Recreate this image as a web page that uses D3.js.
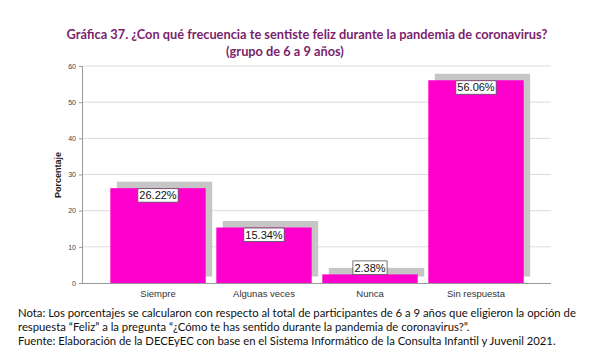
<!DOCTYPE html>
<html><head><meta charset="utf-8">
<script src="https://cdn.jsdelivr.net/npm/d3@7"></script>
<style>body{margin:0;background:#fff}svg{display:block}</style>
</head><body>
<script>
const categories = ["Siempre", "Algunas veces", "Nunca", "Sin respuesta"];
const values = [26.22, 15.34, 2.38, 56.06];
const yTicks = [0, 10, 20, 30, 40, 50, 60];
const titleLines = ["Gráfica 37. ¿Con qué frecuencia te sentiste feliz durante la pandemia de coronavirus?", "(grupo de 6 a 9 años)"];
const noteLines = [
  "Nota: Los porcentajes se calcularon con respecto al total de participantes de 6 a 9 años que eligieron la opción de",
  "respuesta “Feliz” a la pregunta “¿Cómo te has sentido durante la pandemia de coronavirus?”.",
  "Fuente: Elaboración de la DECEyEC con base en el Sistema Informático de la Consulta Infantil y Juvenil 2021."
];

const W = 590, H = 356;
const svg = d3.select("body").append("svg").attr("width", W).attr("height", H);

const plotL = 82, plotR = 551, plotT = 66, plotB = 283;
const x = d3.scaleBand().domain(categories).range([105, 529]).paddingInner(0.1).paddingOuter(0.05);
const y = d3.scaleLinear().domain([0, 60]).range([plotB, plotT]);

// title
const tPos = [{x: 307, y: 39}, {x: 285, y: 56}];
svg.append("g").selectAll("text").data(titleLines).join("text")
  .attr("x", (d, i) => tPos[i].x).attr("y", (d, i) => tPos[i].y)
  .attr("text-anchor", "middle")
  .attr("font-family", "Lato, 'Open Sans', sans-serif").attr("font-weight", "bold")
  .attr("font-size", 12.8).attr("fill", "#7b1f6d")
  .text(d => d);

// gridlines
svg.append("g").selectAll("line").data(yTicks.filter(t => t > 0)).join("line")
  .attr("x1", plotL).attr("x2", plotR)
  .attr("y1", d => y(d)).attr("y2", d => y(d))
  .attr("stroke", "#dcdcdc").attr("stroke-width", 1);

// y axis
const yAxis = svg.append("g").attr("transform", `translate(${plotL},0)`)
  .call(d3.axisLeft(y).tickValues(yTicks).tickSize(3).tickPadding(3));
yAxis.select(".domain").attr("stroke", "#999");
yAxis.selectAll(".tick line").attr("stroke", "#999");
yAxis.selectAll("text").attr("font-family", "Liberation Sans, Arial, sans-serif").attr("font-size", 7).attr("fill", "#444");

// x baseline
svg.append("line").attr("x1", plotL).attr("x2", plotR).attr("y1", plotB + 0.5).attr("y2", plotB + 0.5)
  .attr("stroke", "#999");

// shadows
svg.append("g").selectAll("rect").data(values).join("rect")
  .attr("x", (d, i) => x(categories[i]) + 6.5)
  .attr("y", d => y(d) - 6.5)
  .attr("width", x.bandwidth())
  .attr("height", d => plotB - y(d))
  .attr("fill", "#c6c6c6");

// bars
svg.append("g").selectAll("rect").data(values).join("rect")
  .attr("x", (d, i) => x(categories[i]))
  .attr("y", d => y(d))
  .attr("width", x.bandwidth())
  .attr("height", d => plotB - y(d))
  .attr("fill", "#ff00cc");

// value labels
const boxH = 14;
const lab = svg.append("g").selectAll("g").data(values).join("g")
  .attr("transform", (d, i) => {
    const top = (plotB - y(d)) < boxH + 2 ? y(d) - boxH : y(d);
    return `translate(${x(categories[i]) + x.bandwidth() / 2},${top})`;
  });
const rects = lab.append("rect");
const texts = lab.append("text").attr("x", 0).attr("y", 11.2).attr("text-anchor", "middle")
  .attr("font-family", "Liberation Sans, Arial, sans-serif").attr("font-size", 11)
  .attr("fill", "#111").text(d => d.toFixed(2) + "%");
texts.each(function (d, i) {
  const w = this.getComputedTextLength() + 3;
  d3.select(rects.nodes()[i]).attr("x", -w / 2).attr("y", 0.5).attr("width", w).attr("height", boxH - 0.5)
    .attr("fill", "#fff").attr("stroke", "#555").attr("stroke-width", 0.8);
});

// x labels
svg.append("g").selectAll("text").data(categories).join("text")
  .attr("x", d => x(d) + x.bandwidth() / 2).attr("y", 297)
  .attr("text-anchor", "middle")
  .attr("font-family", "Liberation Sans, Arial, sans-serif").attr("font-size", 9.5).attr("fill", "#333")
  .text(d => d);

// y title
svg.append("text").attr("transform", "translate(61,175) rotate(-90)")
  .attr("text-anchor", "middle")
  .attr("font-family", "Liberation Sans, Arial, sans-serif").attr("font-weight", "bold")
  .attr("font-size", 9).attr("fill", "#222").text("Porcentaje");

// notes
svg.append("g").selectAll("text").data(noteLines).join("text")
  .attr("x", 18).attr("y", (d, i) => 317 + i * 14)
  .attr("font-family", "Lato, 'Open Sans', sans-serif").attr("font-size", 11.3).attr("fill", "#111")
  .text(d => d);
</script>
</body></html>
